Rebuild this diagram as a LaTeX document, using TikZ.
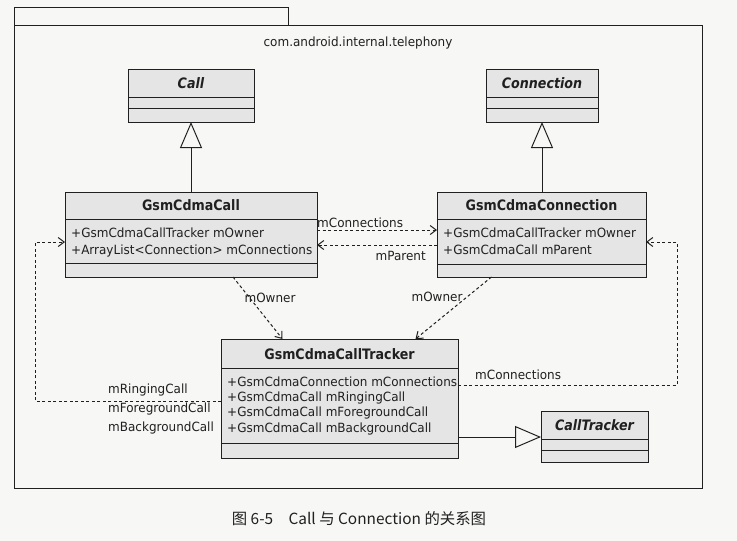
\documentclass[tikz,border=0pt]{standalone}
\usepackage{fontspec}
\setmainfont{DejaVu Sans}
\newfontfamily\uifont[FakeStretch=0.945]{DejaVu Sans}
\newfontfamily\titlefont[FakeStretch=0.88]{DejaVu Sans}
\newfontfamily\cjk{Noto Sans CJK SC}
\usetikzlibrary{arrows.meta,calc}
\definecolor{pagebg}{HTML}{F7F7F5}
\definecolor{boxfill}{HTML}{E5E5E5}
\definecolor{ink}{HTML}{202020}
\tikzset{
  classbox/.style={draw=ink, line width=1pt, fill=boxfill, inner sep=0pt, outer sep=0pt, anchor=north west},
  sepline/.style={draw=ink, line width=1pt},
  frame/.style={draw=ink, line width=1pt},
  ttl/.style={font=\titlefont\fontsize{14.4}{16}\selectfont\bfseries, text=ink, inner sep=0pt},
  ittl/.style={font=\titlefont\fontsize{14.4}{16}\selectfont\bfseries\itshape, text=ink, inner sep=0pt},
  attr/.style={font=\uifont\fontsize{12.7}{14}\selectfont, text=ink, inner sep=0pt, anchor=west},
  lbl/.style={font=\uifont\fontsize{12.7}{14}\selectfont, text=ink, inner sep=0pt},
  gen/.style={draw=ink, line width=1pt, -{Triangle[open, length=26pt, width=22pt, line width=1pt]}},
  assoc/.style={draw=ink, line width=1pt, dash pattern=on 3pt off 2.5pt, -{Straight Barb[length=6pt, width=9pt, line width=1pt]}},
}
\begin{document}
\begin{tikzpicture}[x=1pt,y=-1pt]
\useasboundingbox (0,0) rectangle (737,541);
\fill[pagebg] (0,0) rectangle (737,541);

% package
\draw[frame] (14,7) rectangle (288,25);
\draw[frame] (14,25) rectangle (702,488);
\node[lbl] (pkg) at (358,43) {com.android.internal.telephony};

% Call
\node[classbox, minimum width=126pt, minimum height=53pt] (call) at (128,69) {};
\draw[sepline] ($(call.north west)+(0,28)$) -- ($(call.north east)+(0,28)$);
\draw[sepline] ($(call.north west)+(0,39)$) -- ($(call.north east)+(0,39)$);
\node[ittl] (callt) at ($(call.north)+(0,14)$) {Call};

% Connection
\node[classbox, minimum width=112pt, minimum height=53pt] (conn) at (486,69) {};
\draw[sepline] ($(conn.north west)+(0,28)$) -- ($(conn.north east)+(0,28)$);
\draw[sepline] ($(conn.north west)+(0,39)$) -- ($(conn.north east)+(0,39)$);
\node[ittl] (connt) at ($(conn.north)+(0,14)$) {Connection};

% GsmCdmaCall
\node[classbox, minimum width=252pt, minimum height=85pt] (gcall) at (65,192) {};
\draw[sepline] ($(gcall.north west)+(0,27)$) -- ($(gcall.north east)+(0,27)$);
\draw[sepline] ($(gcall.north west)+(0,71)$) -- ($(gcall.north east)+(0,71)$);
\node[ttl] (gcallt) at ($(gcall.north)+(0,13.5)$) {GsmCdmaCall};
\node[attr] (gca1) at ($(gcall.north west)+(6,41)$) {+GsmCdmaCallTracker mOwner};
\node[attr] (gca2) at ($(gcall.north west)+(6,59)$) {+ArrayList<Connection> mConnections};

% GsmCdmaConnection
\node[classbox, minimum width=209pt, minimum height=85pt] (gconn) at (437,192) {};
\draw[sepline] ($(gconn.north west)+(0,27)$) -- ($(gconn.north east)+(0,27)$);
\draw[sepline] ($(gconn.north west)+(0,72)$) -- ($(gconn.north east)+(0,72)$);
\node[ttl] (gconnt) at ($(gconn.north)+(0,13.5)$) {GsmCdmaConnection};
\node[attr] (gcn1) at ($(gconn.north west)+(6,41)$) {+GsmCdmaCallTracker mOwner};
\node[attr] (gcn2) at ($(gconn.north west)+(6,58)$) {+GsmCdmaCall mParent};

% GsmCdmaCallTracker
\node[classbox, minimum width=237pt, minimum height=119pt] (tracker) at (221,339) {};
\draw[sepline] ($(tracker.north west)+(0,29)$) -- ($(tracker.north east)+(0,29)$);
\draw[sepline] ($(tracker.north west)+(0,104)$) -- ($(tracker.north east)+(0,104)$);
\node[ttl] (trackert) at ($(tracker.north)+(0,15)$) {GsmCdmaCallTracker};
\node[attr] (tr1) at ($(tracker.north west)+(6,43)$) {+GsmCdmaConnection mConnections};
\node[attr] (tr2) at ($(tracker.north west)+(6,59)$) {+GsmCdmaCall mRingingCall};
\node[attr] (tr3) at ($(tracker.north west)+(6,74)$) {+GsmCdmaCall mForegroundCall};
\node[attr] (tr4) at ($(tracker.north west)+(6,90)$) {+GsmCdmaCall mBackgroundCall};

% CallTracker
\node[classbox, minimum width=107pt, minimum height=51pt] (ctr) at (541,411) {};
\draw[sepline] ($(ctr.north west)+(0,28)$) -- ($(ctr.north east)+(0,28)$);
\draw[sepline] ($(ctr.north west)+(0,39)$) -- ($(ctr.north east)+(0,39)$);
\node[ittl] (ctrt) at ($(ctr.north)+(0,14)$) {CallTracker};

% generalizations
\draw[gen] (gcall.north -| call.south) -- (call.south);
\draw[gen] (gconn.north -| conn.south) -- (conn.south);
\coordinate (trg) at ($(tracker.north east)+(0,98)$);
\draw[gen] (trg) -- (trg -| ctr.west);

% associations GsmCdmaCall <-> GsmCdmaConnection
\coordinate (a1) at ($(gcall.north east)+(0,38)$);
\draw[assoc] (a1) -- (a1 -| gconn.west);
\node[lbl, anchor=west] (l1) at ($(gcall.north east)+(0,31)$) {mConnections};
\coordinate (a2) at ($(gconn.north west)+(0,53)$);
\draw[assoc] (a2) -- (a2 -| gcall.east);
\node[lbl, anchor=east] (l2) at ($(gconn.north west)+(-11,64)$) {mParent};

% mOwner
\coordinate (o1s) at ($(gcall.south)+(42,0)$);
\coordinate (o1e) at ($(tracker.north)+(-57,0)$);
\draw[assoc] (o1s) -- (o1e);
\node[lbl] (l3) at (270,298) {mOwner};
\coordinate (o2s) at ($(gconn.south)+(-50,0)$);
\coordinate (o2e) at ($(tracker.north)+(76,0)$);
\draw[assoc] (o2s) -- (o2e);
\node[lbl] (l4) at (437,297) {mOwner};

% tracker -> GsmCdmaConnection
\coordinate (rc) at (677,0);
\coordinate (t1) at ($(tracker.north east)+(0,46)$);
\coordinate (g1) at ($(gconn.north east)+(0,50)$);
\draw[assoc] (t1) -- (t1 -| rc) -- (rc |- g1) -- (g1);
\node[lbl, anchor=west] (l5) at ($(tracker.north east)+(17,36)$) {mConnections};

% tracker -> GsmCdmaCall
\coordinate (lc) at (35,0);
\coordinate (t2) at ($(tracker.north west)+(0,62)$);
\coordinate (g2) at ($(gcall.north west)+(0,50)$);
\draw[assoc] (t2) -- (t2 -| lc) -- (lc |- g2) -- (g2);
\node[lbl, anchor=west] (l6) at (108,390) {mRingingCall};
\node[lbl, anchor=west] (l7) at (108,409) {mForegroundCall};
\node[lbl, anchor=west] (l8) at (108,428) {mBackgroundCall};

% caption
\node[font=\cjk\fontsize{15.4}{18}\selectfont, text=ink, inner sep=0pt] (cap) at (359,519) {图 6-5\hspace{1em}Call 与 Connection 的关系图};
\end{tikzpicture}
\end{document}
